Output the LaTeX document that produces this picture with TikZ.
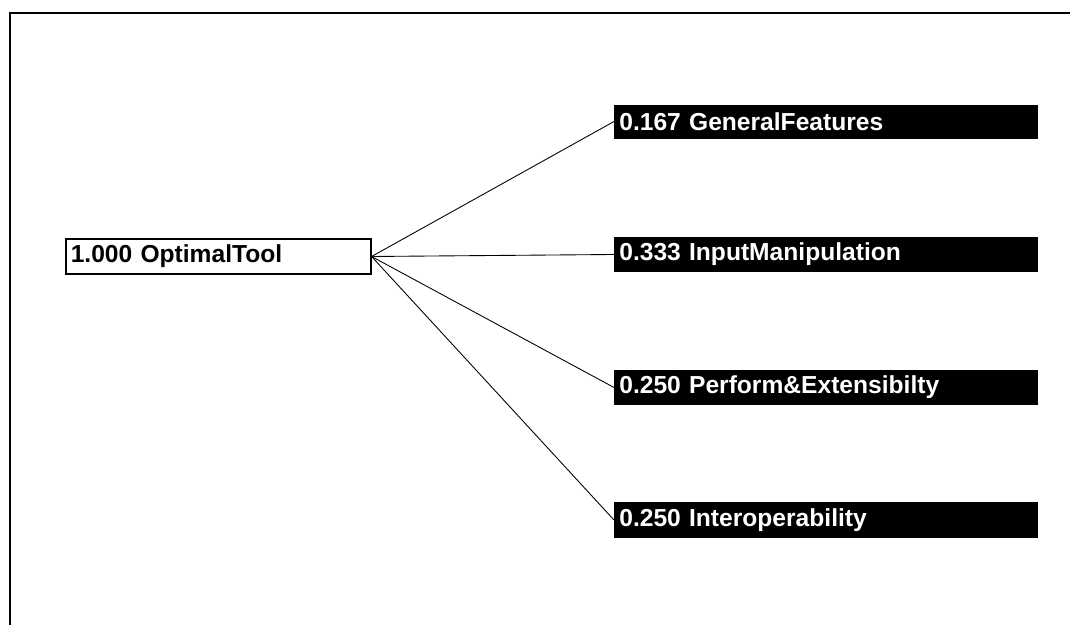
\documentclass[tikz,border=0pt]{standalone}
\usepackage{fontspec}
\setmainfont{Liberation Sans}
\usetikzlibrary{positioning}

\begin{document}
\begin{tikzpicture}[
        goal/.style={draw, line width=0.9pt, rectangle, fill=white, anchor=west, minimum height=0.66cm, text width=5.9cm, inner xsep=0.1cm, align=left, font=\fontsize{14}{16}\selectfont\bfseries},
        crit/.style={draw=black, rectangle, fill=black, text=white, anchor=west, minimum height=0.66cm, text width=8.26cm, inner xsep=0.1cm, align=left, font=\fontsize{14}{16}\selectfont\bfseries},
        link/.style={black, line width=0.5pt}
    ]
        \useasboundingbox (0,0) rectangle (21.4,12.5);

        % Frame
        \draw[line width=1.2pt] (0.2,0) -- (0.2,12.24) -- (21.4,12.24);

        % Goal
        \node[goal] (tool) at (1.3, 7.37) {1.000 OptimalTool};

        % Criteria
        \node[crit] (general) at (12.28, 10.07) {0.167 GeneralFeatures};
        \node[crit] (input) at (12.28, 7.41) {0.333 InputManipulation};
        \node[crit] (perform) at (12.28, 4.75) {0.250 Perform\&Extensibilty};
        \node[crit] (interop) at (12.28, 2.1) {0.250 Interoperability};

        % Links
        \draw[link] (tool.east) -- (general.west);
        \draw[link] (tool.east) -- (input.west);
        \draw[link] (tool.east) -- (perform.west);
        \draw[link] (tool.east) -- (interop.west);

    \end{tikzpicture}
\end{document}
